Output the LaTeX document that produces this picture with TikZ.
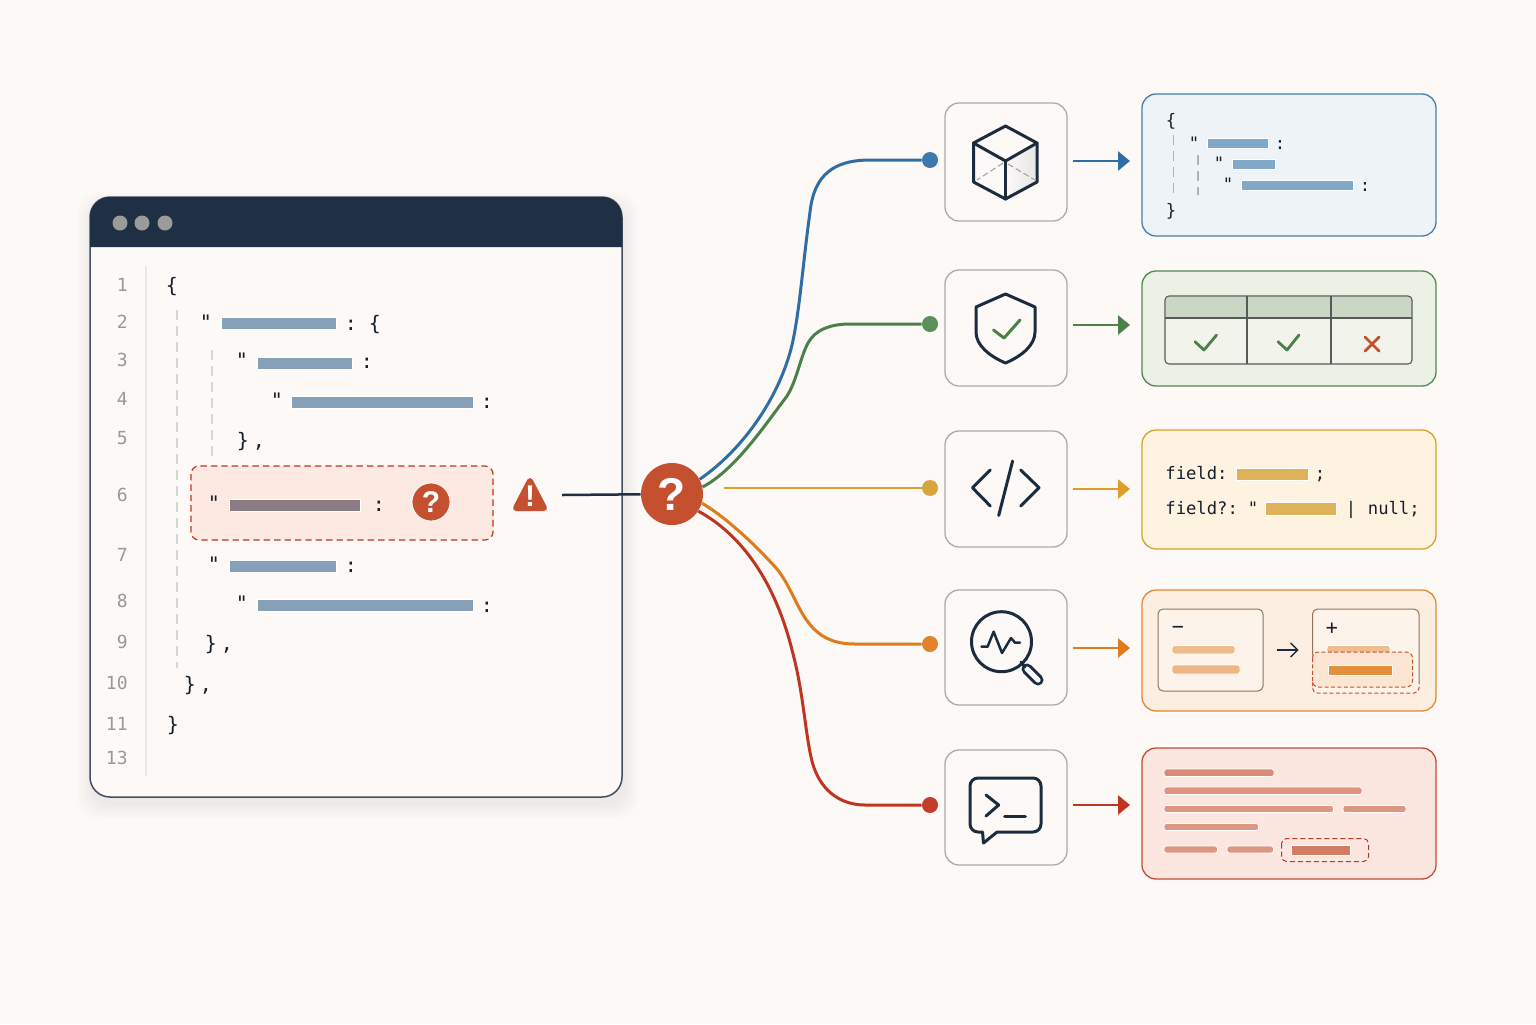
\documentclass[tikz,border=0pt]{standalone}
\usepackage{fontspec}
\usepackage{xcolor}
\usepackage{tikz}
\usetikzlibrary{arrows.meta, calc}
\newfontfamily\codefont{DejaVu Sans Mono}
\newfontfamily\markfont{Liberation Sans}

\definecolor{paper}{HTML}{FCF9F6}
\definecolor{sheet}{HTML}{FCF9F6}
\definecolor{ink}{HTML}{1C2C3F}
\definecolor{codeink}{HTML}{151F2B}
\definecolor{titlebar}{HTML}{1F3044}
\definecolor{keybar}{HTML}{86A0B8}
\definecolor{alert}{HTML}{C5502F}
\definecolor{lineblue}{HTML}{2F6EA5}
\definecolor{linegreen}{HTML}{4A8148}
\definecolor{lineyellow}{HTML}{DC9F2A}
\definecolor{lineorange}{HTML}{DF7B1C}
\definecolor{linered}{HTML}{BE3622}
\definecolor{dotblue}{HTML}{3F78AD}
\definecolor{dotgreen}{HTML}{5B8F5B}
\definecolor{dotyellow}{HTML}{D8A53C}
\definecolor{dotorange}{HTML}{E0832B}
\definecolor{dotred}{HTML}{C23D2A}
\definecolor{fillblue}{HTML}{EEF3F8}
\definecolor{fillgreen}{HTML}{EBF1E4}
\definecolor{fillyellow}{HTML}{FDF3E0}
\definecolor{fillorange}{HTML}{FCEEE0}
\definecolor{fillred}{HTML}{FBE7E0}
\definecolor{fillrow}{HTML}{FBE9E2}
\definecolor{fillchange}{HTML}{FCE6D3}

\tikzset{
	code/.style={font=\codefont\fontsize{10}{12}\selectfont, text=codeink, inner sep=0pt, anchor=base},
	codesmall/.style={font=\codefont\fontsize{8.6}{10}\selectfont, text=codeink, inner sep=0pt, anchor=base},
	linenum/.style={font=\codefont\fontsize{9}{10}\selectfont, text=black!40, inner sep=0pt, anchor=east},
	iconcard/.style={draw=black!33, fill=sheet, line width=0.65pt, rounded corners=7pt, minimum width=61pt, inner sep=0pt, outer sep=0pt},
	outcard/.style={draw=#1, line width=0.65pt, rounded corners=7pt, minimum width=147pt, inner sep=0pt, outer sep=0pt},
	enddot/.style={circle, fill=#1, minimum size=8pt, inner sep=0pt},
	curve/.style={draw=#1, line width=1.5pt},
	flow/.style={draw=#1, line width=1.4pt, -{Triangle[length=6pt, width=9.5pt]}, shorten <=3pt, shorten >=6pt},
	icon/.style={draw=ink, line width=1.5pt, line join=round, line cap=round},
	guide/.style={draw=black!16, line width=0.55pt, dash pattern=on 5pt off 3pt},
	qmark/.style={font=\markfont\bfseries\fontsize{#1}{#1}\selectfont, text=white, inner sep=0pt}
}

\providecommand{\KeyBar}[5]{
	\filldraw[draw=white, line width=0.4pt, fill=#5] (#1,#2) rectangle (#3,#4);
}
\providecommand{\RoundBar}[5]{
	\filldraw[draw=white, line width=0.4pt, fill=#5, rounded corners=1.2pt] (#1,#2) rectangle (#3,#4);
}

\begin{document}
\begin{tikzpicture}[x=0.5pt, y=-0.5pt]

	\fill[paper] (0,0) rectangle (1536,1024);
	\useasboundingbox (0,0) rectangle (1536,1024);

	% window
	\foreach \s in {1,3,...,15}
		\fill[black, opacity=0.007, rounded corners=11pt] (92-\s,207-\s) rectangle (624+\s,804+\s);
	\filldraw[draw=titlebar!85, fill=sheet, line width=0.75pt, rounded corners=10pt] (90,197) rectangle (622,797);
	\fill[titlebar] (90,247) [rounded corners=10pt] -- (90,197) -- (622,197) [sharp corners] -- (622,247) -- cycle;
	\foreach \x in {120,142,165}
		\fill[black!5!gray!75] (\x,223) circle (7.5);

	\draw[black!9, line width=0.6pt] (146,266) -- (146,776);
	\draw[guide] (177,310) -- (177,668);
	\draw[guide] (212,350) -- (212,456);

	\foreach \n/\y in {1/285, 2/322, 3/360, 4/399, 5/438, 6/495, 7/555, 8/601, 9/642, 10/683, 11/724, 13/758}
		\node[linenum] (num\n) at (128,\y) {\n};

	\node[code] (open1) at (172,292) {\{};
	\node[code] (open2) at (375,330) {\{};
	\node[code] (close5) at (243,447) {\}};
	\node[code] (comma5) at (259,447) {,};
	\node[code] (close9) at (211,650) {\}};
	\node[code] (comma9) at (227,650) {,};
	\node[code] (close10) at (190,691) {\}};
	\node[code] (comma10) at (206,691) {,};
	\node[code] (close11) at (173,731) {\}};

	\foreach \n/\x/\y in {2/206/329, 3/242/367, 4/277/407, 7/214/571, 8/242/610}
		\node[code] (quote\n) at (\x,\y) {"};
	\foreach \n/\x/\y in {2/351/330, 3/367/368, 4/487/408, 7/351/572, 8/487/612}
		\node[code] (colon\n) at (\x,\y) {:};

	\KeyBar{221}{317}{336}{329}{keybar}
	\KeyBar{257}{357}{352}{369}{keybar}
	\KeyBar{291}{396}{473}{408}{keybar}
	\KeyBar{229}{560}{336}{572}{keybar}
	\KeyBar{257}{599}{473}{611}{keybar}

	% flagged row
	\filldraw[draw=linered, fill=fillrow, line width=0.6pt, dash pattern=on 3.2pt off 2pt, rounded corners=4pt] (191,466) rectangle (493,540);
	\node[code] (quote6) at (214,510) {"};
	\node[code] (colon6) at (379,511) {:};
	\KeyBar{229}{499}{360}{511}{keybar!70!alert!90!black}
	\node[circle, fill=alert, draw=white, line width=0.4pt, minimum size=19pt, inner sep=0pt, qmark=15] (rowmark) at (431,502) {?};

	\filldraw[alert, line width=3pt, line join=round] (530,481) -- (544,508) -- (516,508) -- cycle;
	\node[qmark=15] (warnmark) at (530,496) {!};

	% hub and ends of the curves
	\node[circle, fill=alert, minimum size=31pt, inner sep=0pt, qmark=23] (hub) at (672,494) {?};
	\node[enddot=dotblue] (dotA) at (930,160) {};
	\node[enddot=dotgreen] (dotB) at (930,324) {};
	\node[enddot=dotyellow] (dotC) at (930,488) {};
	\node[enddot=dotorange] (dotD) at (930,644) {};
	\node[enddot=dotred] (dotE) at (930,805) {};

	\coordinate (warnEnd) at (562,495);
	\coordinate (yellowStart) at (724,488);
	\draw[draw=titlebar, line width=1.25pt] (warnEnd) -- (hub);

	\draw[curve=lineblue] (hub.28) .. controls (745,448) and (780,395) .. (792,345) .. controls (800,310) and (803,260) .. (811,205) .. controls (817,170) and (840,160) .. (870,160) -- (dotA);
	\draw[curve=linegreen] (hub.13) .. controls (735,470) and (765,425) .. (787,396) .. controls (797,380) and (800,358) .. (808,343) .. controls (815,330) and (830,324) .. (850,324) -- (dotB);
	\draw[curve=lineyellow, line width=1.25pt] (yellowStart) -- (dotC);
	\draw[curve=lineorange] (hub.-17) .. controls (730,520) and (760,550) .. (777,569) .. controls (790,585) and (797,608) .. (808,622) .. controls (820,638) and (835,644) .. (855,644) -- (dotD);
	\draw[curve=linered] (hub.-33) .. controls (742,535) and (775,582) .. (792,650) .. controls (803,690) and (805,730) .. (811,757) .. controls (818,790) and (840,805) .. (865,805) -- (dotE);

	% icon cards
	\node[iconcard, minimum height=59pt] (iconA) at (1006,162) {};
	\node[iconcard, minimum height=58pt] (iconB) at (1006,328) {};
	\node[iconcard, minimum height=58pt] (iconC) at (1006,489) {};
	\node[iconcard, minimum height=57.5pt] (iconD) at (1006,647.5) {};
	\node[iconcard, minimum height=57.5pt] (iconE) at (1006,807.5) {};

	% output cards
	\node[outcard=lineblue!90, fill=fillblue, minimum height=71pt] (outA) at (1289,165) {};
	\node[outcard=linegreen!95, fill=fillgreen, minimum height=57.5pt] (outB) at (1289,328.5) {};
	\node[outcard=lineyellow, fill=fillyellow, minimum height=59.5pt] (outC) at (1289,489.5) {};
	\node[outcard=lineorange!90, fill=fillorange, minimum height=60.5pt] (outD) at (1289,650.5) {};
	\node[outcard=linered!90, fill=fillred, minimum height=65.5pt] (outE) at (1289,813.5) {};

	\foreach \n/\c/\y in {A/lineblue/161, B/linegreen/325, C/lineyellow/489, D/lineorange/648, E/linered/805}
		\draw[flow=\c] (icon\n.east |- 0,\y) -- (out\n.west |- 0,\y);

	% cube
	\shade[left color=sheet, right color=black!10] (1005.5,161) -- (1037,143) -- (1037,182) -- (1005.5,199) -- cycle;
	\draw[black!38, line width=0.5pt, dash pattern=on 3pt off 1.5pt] (1003,163) -- (977,180);
	\draw[black!38, line width=0.5pt, dash pattern=on 3pt off 1.5pt] (1008,164) -- (1035,180);
	\draw[icon] (1005.5,126) -- (1037,143) -- (1037,182) -- (1005.5,199) -- (973.5,182) -- (973.5,143) -- cycle;
	\draw[icon] (973.5,143) -- (1005.5,161) -- (1037,143);
	\draw[icon] (1005.5,161) -- (1005.5,199);

	% shield
	\draw[icon] (1005.5,294) -- (1035,307) -- (1035,332) .. controls (1035,345) and (1022,356) .. (1005.5,363) .. controls (989,356) and (976,345) .. (976,332) -- (976,307) -- cycle;
	\draw[icon, draw=linegreen] (993.5,330) -- (1004,338) -- (1020,320);

	% code
	\draw[icon] (990.3,470) -- (972.4,487.7) -- (990.3,506);
	\draw[icon] (1020.7,470) -- (1039,487.7) -- (1020.7,506);
	\draw[icon] (1012.6,461) -- (998.7,515.5);

	% magnifier
	\draw[icon, line width=5.5pt] (1027,669) -- (1038,680);
	\draw[draw=sheet, line width=2.6pt, line cap=round] (1027,669) -- (1038,680);
	\draw[icon] (1021,662) -- (1025,667);
	\draw[icon] (1001.5,641.7) circle (30);
	\draw[icon, line width=1.25pt] (981.5,646.7) -- (987.6,646.7) -- (993.6,631.7) -- (1002,653) -- (1011,638) -- (1015,642.7) -- (1020,642.7);

	% prompt
	\draw[icon] (997,832) [rounded corners=4pt] -- (1041,832) -- (1041,778) -- (970,778) -- (970,832) [sharp corners] -- (982.5,832) -- (983.5,843) -- cycle;
	\draw[icon] (986,795) -- (998.7,805) -- (986,816);
	\draw[icon] (1004.5,816.7) -- (1025.4,816.7);

	% blue card
	\node[codesmall] (blueOpen) at (1171,126) {\{};
	\node[codesmall] (blueClose) at (1171,216) {\}};
	\draw[guide, draw=black!30] (1173.5,135) -- (1173.5,195);
	\draw[guide, draw=black!30] (1198,155) -- (1198,195);
	\foreach \n/\x/\y in {1/1194/149, 2/1219/169, 3/1228/190}
		\node[codesmall] (blueQuote\n) at (\x,\y) {"};
	\node[codesmall] (blueColon1) at (1280,149) {:};
	\node[codesmall] (blueColon3) at (1365,191) {:};
	\KeyBar{1207}{138}{1268}{148}{lineblue!60!white}
	\KeyBar{1232}{159}{1275}{169}{lineblue!60!white}
	\KeyBar{1241}{180}{1353}{190}{lineblue!60!white}

	% green card
	\fill[fillgreen!60!paper, rounded corners=2pt] (1165,296) rectangle (1412,364);
	\fill[linegreen!28!paper, rounded corners=2pt] (1165.5,296.5) rectangle (1411.5,318);
	\draw[black!65, line width=0.55pt, rounded corners=2pt] (1165,296) rectangle (1412,364);
	\draw[black!65, line width=0.55pt] (1165,318) -- (1412,318);
	\draw[black!65, line width=0.55pt] (1247,296) -- (1247,364);
	\draw[black!65, line width=0.55pt] (1331,296) -- (1331,364);
	\draw[icon, draw=linegreen, line width=1.4pt] (1195,341.7) -- (1204,350) -- (1216.6,335);
	\draw[icon, draw=linegreen, line width=1.4pt] (1278,341.7) -- (1287,350) -- (1299,335);
	\draw[icon, draw=alert, line width=1.4pt] (1365,337) -- (1379,351);
	\draw[icon, draw=alert, line width=1.4pt] (1379,337) -- (1365,351);

	% yellow card
	\node[codesmall, anchor=base west] (fieldA) at (1165,479) {field:};
	\node[codesmall] (fieldAend) at (1320,479) {;};
	\node[codesmall, anchor=base west] (fieldB) at (1165,514) {field?:};
	\node[codesmall] (fieldBquote) at (1253,514) {"};
	\node[codesmall] (fieldBbar) at (1351,514) {|};
	\node[codesmall, anchor=base west] (fieldBnull) at (1367.5,514) {null;};
	\KeyBar{1236}{468}{1308.5}{480}{dotyellow!85!white}
	\KeyBar{1265}{502}{1336}{515}{dotyellow!85!white}

	% orange card
	\filldraw[draw=black!20!lineorange!35!gray, fill=fillorange!50!paper, line width=0.5pt, rounded corners=2.5pt] (1158,609) rectangle (1263,691);
	\fill[fillorange!50!paper, rounded corners=2.5pt] (1312.5,609) rectangle (1419,693);
	\draw[black!20!lineorange!35!gray, line width=0.5pt, rounded corners=2.5pt] (1312.5,655) -- (1312.5,609) -- (1419,609) -- (1419,682);
	\draw[alert, line width=0.5pt, dash pattern=on 2pt off 1.2pt, rounded corners=2.5pt] (1312.5,682) -- (1312.5,693) -- (1419,693) -- (1419,682);
	\node[code] (minusSign) at (1178,633) {−};
	\node[code] (plusSign) at (1332,634) {+};
	\RoundBar{1172}{645.5}{1235}{654}{lineorange!50!white}
	\RoundBar{1172}{665}{1240}{674}{lineorange!55!white}
	\RoundBar{1327}{645.5}{1390}{654}{lineorange!50!white}
	\filldraw[draw=alert, fill=fillchange, line width=0.5pt, dash pattern=on 2pt off 1.2pt, rounded corners=3pt] (1312.5,652) rectangle (1412.5,687);
	\KeyBar{1328}{665}{1392.5}{675}{dotorange!90!white}
	\draw[ink, line width=0.7pt, -{Straight Barb[length=3.5pt, width=7pt]}] (1276.5,650) -- (1298.5,650);

	% red card
	\RoundBar{1164}{769}{1274}{776.5}{alert!65!white}
	\RoundBar{1164}{787}{1362}{794.5}{alert!60!white}
	\RoundBar{1164}{805.5}{1333.5}{812.5}{alert!60!white}
	\RoundBar{1343}{805.5}{1406}{812.5}{alert!60!white}
	\RoundBar{1164}{823.5}{1258.5}{830.5}{alert!60!white}
	\RoundBar{1164}{846}{1217.5}{853}{alert!60!white}
	\RoundBar{1227}{846}{1273.5}{853}{alert!60!white}
	\draw[linered, line width=0.5pt, dash pattern=on 2.5pt off 1.5pt, rounded corners=2.5pt] (1281.5,838.5) rectangle (1368.5,861.5);
	\KeyBar{1291.5}{845}{1350.5}{855}{alert!75!white}

\end{tikzpicture}
\end{document}
